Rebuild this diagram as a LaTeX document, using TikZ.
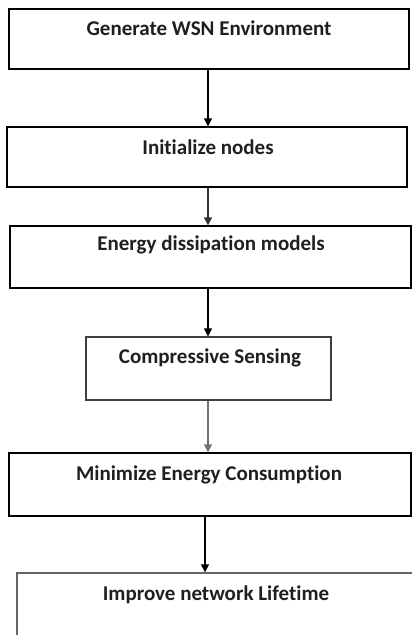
\documentclass[tikz,border=0pt]{standalone}
\usepackage{fontspec}
\setmainfont{Carlito}[RawFeature={-liga}]
\usetikzlibrary{arrows.meta}
\begin{document}
\begin{tikzpicture}[x=1pt,y=-1pt,
  box/.style={draw=black,line width=1.4pt,rectangle,inner sep=0pt},
  txt/.style={font=\bfseries\fontsize{21}{23}\selectfont,text=black!88,inner sep=0pt},
  arr/.style={draw=black,line width=1.4pt,-{Triangle[width=8pt,length=8pt]}}]
\useasboundingbox (0,0) rectangle (412,635);
\clip (0,0) rectangle (412,635);
\node[box,minimum width=400pt,minimum height=60pt] (b1) at (209,39) {};
\node[box,minimum width=400pt,minimum height=60pt] (b2) at (207,157) {};
\node[box,minimum width=401pt,minimum height=62pt] (b3) at (210.5,257) {};
\node[box,draw=black!75,minimum width=245pt,minimum height=63pt] (b4) at (208.5,368.5) {};
\node[box,minimum width=402pt,minimum height=63pt] (b5) at (210,484.5) {};
\node[box,draw=black!60,minimum width=399pt,minimum height=77pt] (b6) at (216.5,611.5) {};
\node[txt] (t1) at (209,28) {Generate WSN Environment};
\node[txt] (t2) at (208,147) {Initialize nodes};
\node[txt] (t3) at (211,245) {Energy dissipation models};
\node[txt] (t4) at (210,358) {Compressive Sensing};
\node[txt] (t5) at (209,475) {Minimize Energy Consumption};
\node[txt] (t6) at (216,595) {Improve network Lifetime};
\draw[arr] (b1.south -| 208,0) -- (b2.north -| 208,0);
\draw[arr,draw=black!80] (b2.south -| 208,0) -- (b3.north -| 208,0);
\draw[arr] (b3.south -| 208,0) -- (b4.north -| 208,0);
\draw[arr,draw=black!55] (b4.south -| 208,0) -- (b5.north -| 208,0);
\draw[arr] (b5.south -| 205,0) -- (b6.north -| 205,0);
\end{tikzpicture}
\end{document}
